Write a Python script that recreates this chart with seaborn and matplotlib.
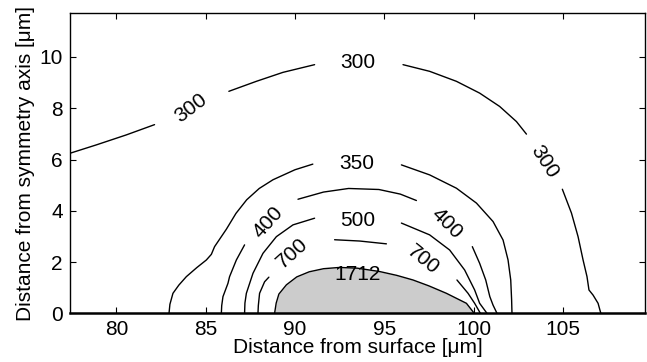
import numpy as np
import pandas as pd
import matplotlib
matplotlib.use('Agg')
import matplotlib.pyplot as plt
import seaborn as sns

# contour segments (x in um from surface, y in um from axis)
c300_a = [(77.3, 6.22), (78.88, 6.57), (80.56, 6.96), (82.14, 7.36)]
c300_b = [(86.30, 8.66), (87.84, 9.05), (89.33, 9.40), (91.10, 9.70)]
c300_c = [(96.05, 9.70), (97.54, 9.44), (99.04, 9.05), (100.34, 8.59), (101.46, 8.07),
          (102.40, 7.48), (102.96, 6.99)]
c300_d = [(104.97, 4.84), (105.48, 3.91), (105.85, 2.99), (106.13, 2.08), (106.35, 1.43),
          (106.46, 0.91), (106.69, 0.71), (106.97, 0.39), (107.10, 0.06), (107.13, 0.0)]

c350_a = [(82.95, 0.0), (83.0, 0.35), (83.17, 0.78), (83.5, 1.1), (83.92, 1.43),
          (84.5, 1.78), (85.04, 2.08), (85.32, 2.3), (85.5, 2.6), (86.16, 3.28),
          (86.7, 3.9), (87.3, 4.43), (88.0, 4.87), (88.77, 5.21), (90.0, 5.6), (91.0, 5.82)]
c350_b = [(95.96, 5.79), (97.54, 5.40), (99.04, 4.88), (100.16, 4.30), (101.09, 3.58),
          (101.65, 2.86), (101.93, 2.08), (102.08, 1.30), (102.13, 0.52), (102.15, 0.0)]

c400_a = [(85.88, 0.0), (85.9, 0.3), (85.97, 0.65), (86.25, 1.17), (86.34, 1.43),
          (86.72, 2.08), (87.18, 2.67)]
c400_b = [(90.17, 4.45), (91.6, 4.73), (93.0, 4.87), (94.7, 4.83), (95.9, 4.65), (96.8, 4.40)]
c400_c = [(99.93, 2.60), (100.34, 1.95), (100.68, 1.30), (100.91, 0.65), (101.09, 0.32),
          (101.31, 0.0)]

c500_a = [(87.18, 0.0), (87.2, 0.4), (87.28, 0.78), (87.65, 1.56), (88.21, 2.34),
          (88.96, 2.99), (89.89, 3.45), (91.10, 3.71)]
c500_b = [(95.96, 3.52), (97.54, 3.06), (98.66, 2.47), (99.50, 1.69), (100.06, 0.91),
          (100.34, 0.39), (100.75, 0.0)]

c700_a = [(87.93, 0.0), (87.95, 0.3), (88.02, 0.78), (88.30, 1.23), (88.54, 1.41)]
c700_b = [(92.22, 2.87), (93.62, 2.82), (95.12, 2.71)]
c700_c = [(99.07, 1.30), (99.69, 0.78), (100.06, 0.39), (100.38, 0.0)]

c1712 = [(88.86, 0.0), (88.95, 0.4), (89.1, 0.75), (89.52, 1.11), (90.1, 1.42),
         (90.8, 1.62), (91.6, 1.74), (92.5, 1.79), (93.5, 1.76), (94.74, 1.63),
         (95.7, 1.48), (96.61, 1.30), (97.5, 1.07), (98.48, 0.78), (99.60, 0.39),
         (99.97, 0.06), (100.02, 0.0)]

# labels: text, x, y, rotation
label_text = ['300', '300', '300', '350', '400', '400', '500', '700', '700', '1712']
label_x = [84.2, 93.53, 103.98, 93.44, 88.49, 98.48, 93.53, 89.85, 97.17, 93.53]
label_y = [8.0, 9.77, 5.92, 5.86, 3.55, 3.52, 3.64, 2.35, 2.10, 1.52]
label_rot = [37, 0, -57, 0, 48, -45, 0, 42, -39, 0]

segments = {'c300_a': c300_a, 'c300_b': c300_b, 'c300_c': c300_c, 'c300_d': c300_d,
            'c350_a': c350_a, 'c350_b': c350_b,
            'c400_a': c400_a, 'c400_b': c400_b, 'c400_c': c400_c,
            'c500_a': c500_a, 'c500_b': c500_b,
            'c700_a': c700_a, 'c700_b': c700_b, 'c700_c': c700_c,
            'c1712': c1712}
rows = []
for name, pts in segments.items():
    for x, y in pts:
        rows.append({'seg': name, 'x': x, 'y': y})
df = pd.DataFrame(rows)

sns.set_style('ticks')
plt.rcParams['font.family'] = ['Liberation Sans', 'DejaVu Sans']
plt.rcParams['text.color'] = 'black'
plt.rcParams['axes.labelcolor'] = 'black'
fs = 15

fig, ax = plt.subplots(figsize=(6.47, 3.62), dpi=100)
fig.subplots_adjust(left=0.108, right=0.997, top=0.963, bottom=0.1345)

gx = [p[0] for p in c1712]
gy = [p[1] for p in c1712]
ax.fill_between(gx, gy, 0, color='#cccccc', lw=0, zorder=1)

sns.lineplot(data=df, x='x', y='y', units='seg', estimator=None, sort=False,
             color='black', lw=1.0, ax=ax, zorder=2)

for t, x, y, r in zip(label_text, label_x, label_y, label_rot):
    ax.text(x, y, t, rotation=r, ha='center', va='center', fontsize=fs,
            color='black', zorder=3)

ax.set_xlim(77.4, 109.6)
ax.set_ylim(0, 11.7)
ax.set_xticks([80, 85, 90, 95, 100, 105])
ax.set_yticks([0, 2, 4, 6, 8, 10])
ax.tick_params(direction='in', length=4, width=0.8, top=True, right=True,
               labelsize=fs, pad=5, colors='black')
for s in ax.spines.values():
    s.set_visible(True)
    s.set_color('black')
    s.set_linewidth(1.0)
ax.spines['bottom'].set_linewidth(1.8)
ax.set_xlabel('Distance from surface [μm]', fontsize=fs, labelpad=-1)
ax.set_ylabel('Distance from symmetry axis [μm]', fontsize=fs, labelpad=3)

fig.savefig('out.png', dpi=100)
